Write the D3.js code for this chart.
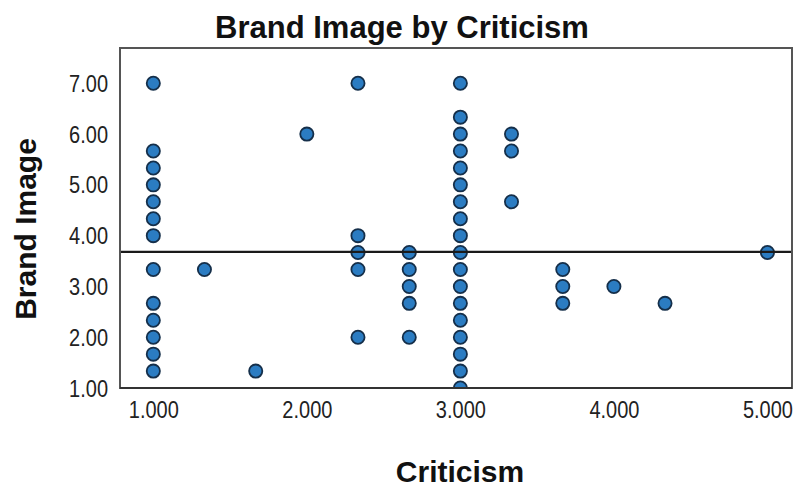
<!DOCTYPE html>
<html>
<head>
<meta charset="utf-8">
<script src="https://cdn.jsdelivr.net/npm/d3@7"></script>
<style>
  html, body { margin: 0; padding: 0; background: #fff; }
  svg { display: block; }
  text { font-family: "Liberation Sans", Arial, sans-serif; }
</style>
</head>
<body>
<svg id="chart" width="794" height="489"></svg>
<script>
// Scatter of Brand Image against Criticism (scores on a 1/3-step scale)
const title = "Brand Image by Criticism";
const xLabel = "Criticism";
const yLabel = "Brand Image";

const criticism = [
  1, 1, 1, 1, 1, 1, 1, 1, 1, 1, 1, 1, 1,
  1.333,
  1.667,
  2.0,
  2.333, 2.333, 2.333, 2.333, 2.333,
  2.667, 2.667, 2.667, 2.667, 2.667,
  3, 3, 3, 3, 3, 3, 3, 3, 3, 3, 3, 3, 3, 3, 3, 3, 3, 3,
  3.333, 3.333, 3.333,
  3.667, 3.667, 3.667,
  4.0,
  4.333,
  5.0
];
const brandImage = [
  7.0, 5.667, 5.333, 5.0, 4.667, 4.333, 4.0, 3.333, 2.667, 2.333, 2.0, 1.667, 1.333,
  3.333,
  1.333,
  6.0,
  7.0, 4.0, 3.667, 3.333, 2.0,
  3.667, 3.333, 3.0, 2.667, 2.0,
  7.0, 6.333, 6.0, 5.667, 5.333, 5.0, 4.667, 4.333, 4.0, 3.667, 3.333, 3.0, 2.667, 2.333, 2.0, 1.667, 1.333, 1.0,
  6.0, 5.667, 4.667,
  3.333, 3.0, 2.667,
  3.0,
  2.667,
  3.667
];
const meanBrandImage = 3.68;

const xTicks = [1, 2, 3, 4, 5];
const yTicks = [1, 2, 3, 4, 5, 6, 7];

const svg = d3.select("#chart");
const plot = { left: 120, right: 792, top: 48, bottom: 388 };

const x = d3.scaleLinear().domain([0.783, 5.16]).range([plot.left, plot.right]);
const y = d3.scaleLinear().domain([1, 7.695]).range([plot.bottom, plot.top]);

svg.append("defs").append("clipPath").attr("id", "plot-clip")
  .append("rect")
  .attr("x", plot.left).attr("y", plot.top)
  .attr("width", plot.right - plot.left).attr("height", plot.bottom - plot.top);

// Title
svg.append("text")
  .attr("x", 402).attr("y", 38)
  .attr("text-anchor", "middle")
  .attr("font-size", 31).attr("font-weight", "bold").attr("fill", "#111")
  .text(title);

// Axes (tick labels only, no tick marks)
const xAxis = d3.axisBottom(x).tickValues(xTicks).tickFormat(d3.format(".3f")).tickSize(0).tickPadding(0);
const yAxis = d3.axisLeft(y).tickValues(yTicks).tickFormat(d3.format(".2f")).tickSize(0).tickPadding(0);

const gx = svg.append("g").attr("transform", `translate(0,${plot.bottom})`).call(xAxis);
gx.select(".domain").remove();
gx.selectAll("text")
  .attr("font-size", 20).attr("fill", "#222").attr("dy", null).attr("y", null)
  .attr("transform", "translate(0,30) scale(1,1.18)")
  .style("font-family", "'Liberation Sans', Arial, sans-serif");

const gy = svg.append("g").attr("transform", `translate(${plot.left - 12},0)`).call(yAxis);
gy.select(".domain").remove();
gy.selectAll(".tick text")
  .attr("font-size", 20).attr("fill", "#222").attr("x", 0).attr("dy", null)
  .attr("transform", "translate(0,8) scale(1,1.18)")
  .style("font-family", "'Liberation Sans', Arial, sans-serif");

// Points
const pts = criticism.map((c, i) => ({ c, b: brandImage[i] }));
svg.append("g").attr("clip-path", "url(#plot-clip)")
  .selectAll("circle").data(pts).join("circle")
  .attr("cx", d => x(d.c)).attr("cy", d => y(d.b)).attr("r", 6.6)
  .attr("fill", "#2b7cc2").attr("stroke", "#152f4a").attr("stroke-width", 1.8);

// Reference line at the mean
svg.append("line")
  .attr("x1", plot.left).attr("x2", plot.right)
  .attr("y1", y(meanBrandImage)).attr("y2", y(meanBrandImage))
  .attr("stroke", "#1a1a1a").attr("stroke-width", 2.4);

// Frame
svg.append("rect")
  .attr("x", plot.left).attr("y", plot.top)
  .attr("width", plot.right - plot.left).attr("height", plot.bottom - plot.top)
  .attr("fill", "none").attr("stroke", "#555").attr("stroke-width", 2);
svg.append("line")
  .attr("x1", plot.left).attr("x2", plot.right)
  .attr("y1", plot.bottom).attr("y2", plot.bottom)
  .attr("stroke", "#333").attr("stroke-width", 2);

// Axis titles
svg.append("text")
  .attr("x", 460).attr("y", 482)
  .attr("text-anchor", "middle")
  .attr("font-size", 30).attr("font-weight", "bold").attr("fill", "#111")
  .text(xLabel);

svg.append("text")
  .attr("transform", "translate(36,229) rotate(-90)")
  .attr("text-anchor", "middle")
  .attr("font-size", 30).attr("font-weight", "bold").attr("fill", "#111")
  .text(yLabel);
</script>
</body>
</html>
